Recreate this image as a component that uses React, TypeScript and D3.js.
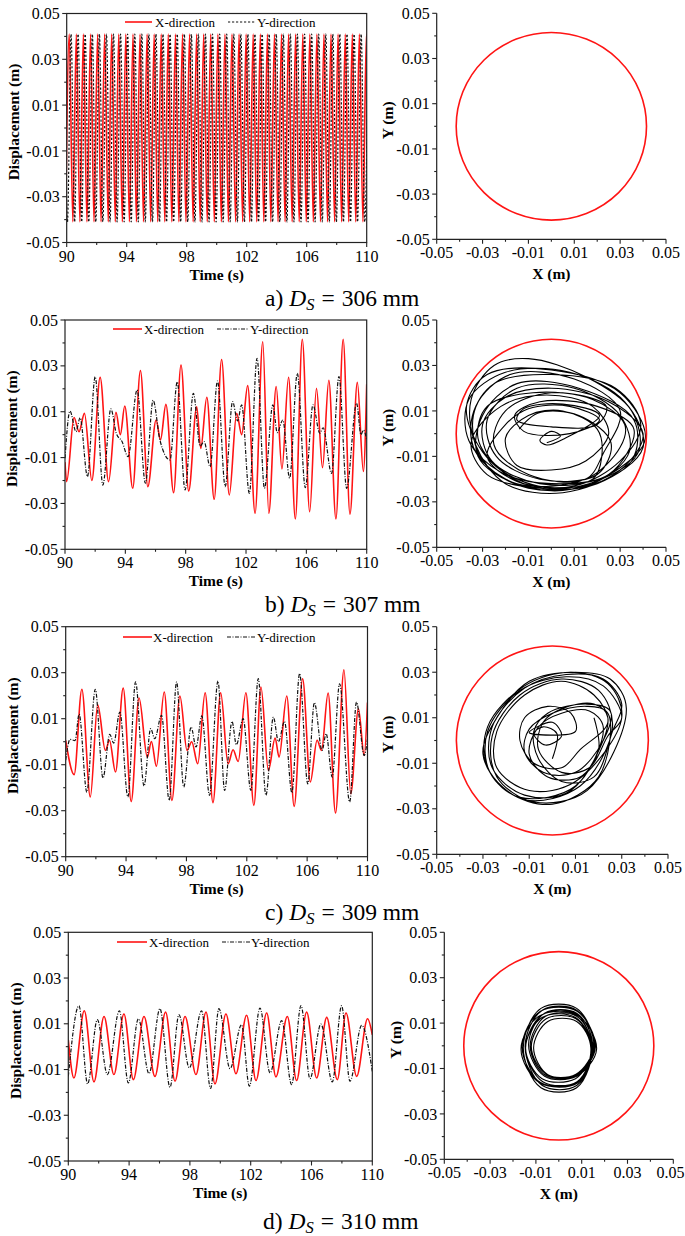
import React from 'react';
import * as d3 from 'd3';

type Pt = [number, number];

const FONT = "'Liberation Serif','Times New Roman',Times,serif";
const RED = '#ff1414';
const INK = '#111';
const PAGE_W = 685;

// ---------- axis ticks ----------
const timeTicksMajor = [90, 94, 98, 102, 106, 110];
const timeTickLabels = ['90', '94', '98', '102', '106', '110'];
const timeTicksMinor = [92, 96, 100, 104, 108];
const dispTicksMajor = [-0.05, -0.03, -0.01, 0.01, 0.03, 0.05];
const dispTickLabels = ['-0.05', '-0.03', '-0.01', '0.01', '0.03', '0.05'];
const dispTicksMinor = [-0.04, -0.02, 0, 0.02, 0.04];

// ---------- captions ----------
const panelLetters = ['a)', 'b)', 'c)', 'd)'];
const dsValues = ['306', '307', '309', '310'];
const seriesNames = ['X-direction', 'Y-direction'];

// clearance circle radius (m)
const clearanceR = 0.0415;

// ---------- a) D_S = 306 mm : extrema times (s), amplitude (m) ----------
const aAmp = 0.041;
const aXPeakTimes = [90.17, 90.64, 91.11, 91.59, 92.06, 92.53, 93.0, 93.47, 93.94, 94.42, 94.89, 95.36, 95.83, 96.3, 96.77, 97.25, 97.72, 98.19, 98.66, 99.13, 99.6, 100.08, 100.55, 101.02, 101.49, 101.96, 102.43, 102.91, 103.38, 103.85, 104.32, 104.79, 105.26, 105.74, 106.21, 106.68, 107.15, 107.62, 108.09, 108.57, 109.04, 109.51, 109.98];
const aXTroughTimes = [89.93, 90.41, 90.88, 91.35, 91.82, 92.29, 92.77, 93.24, 93.71, 94.18, 94.65, 95.12, 95.6, 96.07, 96.54, 97.01, 97.48, 97.95, 98.43, 98.9, 99.37, 99.84, 100.31, 100.78, 101.26, 101.73, 102.2, 102.67, 103.14, 103.61, 104.09, 104.56, 105.03, 105.5, 105.97, 106.44, 106.92, 107.39, 107.86, 108.33, 108.8, 109.27, 109.75, 110.22];
const aYPeakTimes = [89.82, 90.29, 90.76, 91.23, 91.71, 92.18, 92.65, 93.12, 93.59, 94.06, 94.54, 95.01, 95.48, 95.95, 96.42, 96.89, 97.37, 97.84, 98.31, 98.78, 99.25, 99.72, 100.2, 100.67, 101.14, 101.61, 102.08, 102.55, 103.03, 103.5, 103.97, 104.44, 104.91, 105.38, 105.86, 106.33, 106.8, 107.27, 107.74, 108.21, 108.69, 109.16, 109.63, 110.1];
const aYTroughTimes = [90.05, 90.53, 91.0, 91.47, 91.94, 92.41, 92.89, 93.36, 93.83, 94.3, 94.77, 95.24, 95.72, 96.19, 96.66, 97.13, 97.6, 98.07, 98.55, 99.02, 99.49, 99.96, 100.43, 100.9, 101.38, 101.85, 102.32, 102.79, 103.26, 103.73, 104.21, 104.68, 105.15, 105.62, 106.09, 106.56, 107.04, 107.51, 107.98, 108.45, 108.92, 109.39, 109.87];

// ---------- b) D_S = 307 mm ----------
const bXT = [90.0, 90.11, 90.6, 90.93, 91.29, 91.78, 92.33, 92.89, 93.38, 93.67, 93.96, 94.49, 95.0, 95.49, 96.04, 96.33, 96.69, 97.2, 97.69, 98.2, 98.73, 99.0, 99.4, 99.89, 100.38, 100.89, 101.38, 101.71, 102.11, 102.6, 103.11, 103.51, 104.0, 104.38, 104.82, 105.27, 105.73, 106.22, 106.67, 107.07, 107.49, 107.96, 108.44, 108.89, 109.38, 109.78, 110.0];
const bXV = [-0.012, -0.0205, 0.0075, 0.0013, 0.0093, -0.02, 0.025, -0.0205, 0.0097, 0.0, 0.0125, -0.0234, 0.028, -0.0227, 0.0064, -0.0023, 0.0132, -0.0253, 0.0304, -0.0246, 0.0122, -0.006, 0.0163, -0.0282, 0.0328, -0.0263, 0.0093, 0.0, 0.0214, -0.0343, 0.0405, -0.0343, 0.021, -0.015, 0.025, -0.0368, 0.0416, -0.0336, 0.0202, -0.0144, 0.0237, -0.0368, 0.0416, -0.0347, 0.0228, -0.016, 0.022];
const bYT = [90.0, 90.33, 90.73, 91.0, 91.49, 92.0, 92.51, 93.04, 93.4, 93.78, 94.18, 94.78, 95.33, 95.84, 96.29, 96.96, 97.44, 97.96, 98.51, 98.96, 99.22, 99.62, 100.11, 100.62, 101.11, 101.44, 101.71, 102.22, 102.73, 103.22, 103.78, 104.07, 104.44, 104.89, 105.4, 105.93, 106.44, 106.89, 107.11, 107.67, 108.16, 108.67, 109.33, 109.62, 109.78, 110.0];
const bYV = [-0.0103, 0.0103, 0.0013, 0.0074, -0.0183, 0.0253, -0.022, 0.0112, 0.0006, -0.003, -0.0096, 0.0195, -0.0212, 0.015, -0.0023, -0.011, 0.023, -0.0241, 0.018, -0.005, -0.003, -0.014, 0.0234, -0.0227, 0.0144, 0.006, 0.013, -0.0256, 0.0333, -0.0234, 0.013, 0.0009, 0.0064, -0.019, 0.0267, -0.0231, 0.013, 0.0006, 0.003, -0.0169, 0.0253, -0.0234, 0.0137, 0.0, 0.002, -0.002];

// ---------- c) D_S = 309 mm ----------
const cXT = [90.0, 90.56, 91.07, 91.63, 92.12, 92.63, 92.9, 93.3, 93.81, 94.34, 94.86, 95.41, 95.68, 96.01, 96.53, 97.04, 97.57, 98.04, 98.35, 98.75, 99.24, 99.76, 100.27, 100.76, 101.09, 101.43, 101.94, 102.47, 102.94, 103.43, 103.88, 104.14, 104.65, 105.14, 105.7, 106.21, 106.66, 106.95, 107.39, 107.88, 108.44, 108.89, 109.4, 109.78, 110.0];
const cXV = [0.0006, -0.0143, 0.0228, -0.024, 0.016, -0.0038, 0.0006, -0.0132, 0.0233, -0.026, 0.019, -0.0067, 0.0001, -0.0107, 0.0216, -0.0255, 0.0199, -0.0038, 0.0, -0.0096, 0.0213, -0.0265, 0.0213, -0.0096, -0.0035, -0.0086, 0.0213, -0.0277, 0.0238, -0.0125, 0.0016, -0.0067, 0.0199, -0.0281, 0.0274, -0.0175, 0.0006, -0.0038, 0.0212, -0.031, 0.0313, -0.0226, 0.0143, -0.006, 0.017];
const cYT = [90.0, 90.29, 90.62, 90.89, 91.4, 91.96, 92.47, 92.92, 93.18, 93.59, 94.12, 94.63, 95.19, 95.63, 95.9, 96.35, 96.86, 97.35, 97.82, 98.31, 98.64, 99.02, 99.53, 100.09, 100.53, 101.02, 101.31, 101.76, 102.27, 102.76, 103.27, 103.76, 104.1, 104.5, 104.99, 105.5, 106.04, 106.48, 106.99, 107.26, 107.66, 108.15, 108.82, 109.27, 109.78, 110.0];
const cYV = [-0.008, 0.001, 0.0005, 0.012, -0.0219, 0.0228, -0.0158, 0.0032, -0.0006, 0.0129, -0.024, 0.026, -0.0193, 0.0057, 0.0013, 0.0115, -0.0255, 0.026, -0.0197, 0.0064, -0.0023, 0.0112, -0.0233, 0.0264, -0.0212, 0.0088, -0.0013, 0.01, -0.0212, 0.0274, -0.0233, 0.0107, 0.0, 0.0088, -0.0222, 0.0296, -0.0183, 0.017, -0.0038, 0.0035, -0.0154, 0.0252, -0.0262, 0.0172, -0.006, 0.0013];

// ---------- d) D_S = 310 mm ----------
const dXT = [90.0, 90.37, 91.05, 91.69, 92.35, 93.0, 93.66, 94.28, 94.98, 95.7, 96.4, 97.02, 97.68, 98.4, 99.06, 99.65, 100.37, 101.03, 101.73, 102.35, 103.05, 103.66, 104.41, 105.02, 105.68, 106.34, 107.0, 107.7, 108.27, 108.97, 109.69, 110.0];
const dXV = [0.003, -0.0137, 0.0157, -0.0154, 0.0132, -0.0122, 0.0143, -0.0144, 0.0132, -0.013, 0.0151, -0.0151, 0.0132, -0.0122, 0.0151, -0.0163, 0.0143, -0.0118, 0.0137, -0.0148, 0.0147, -0.0132, 0.0132, -0.0148, 0.0151, -0.0137, 0.0128, -0.0144, 0.0147, -0.013, 0.0122, 0.0052];
const dYT = [90.0, 90.7, 91.27, 91.91, 92.57, 93.36, 93.95, 94.61, 95.31, 96.03, 96.69, 97.28, 97.96, 98.77, 99.36, 99.91, 100.64, 101.4, 101.91, 102.61, 103.27, 104.04, 104.69, 105.31, 105.9, 106.62, 107.37, 107.98, 108.53, 109.3, 110.0];
const dYV = [-0.013, 0.0179, -0.0163, 0.0118, -0.0122, 0.0157, -0.0159, 0.0122, -0.0118, 0.0166, -0.0178, 0.014, -0.0093, 0.0157, -0.0183, 0.0166, -0.0096, 0.0096, -0.0173, 0.0169, -0.0115, 0.0114, -0.0166, 0.018, -0.014, 0.0099, -0.0154, 0.0179, -0.0151, 0.0093, -0.0108];

// ---------- orbit traces (X, Y in m) ----------
const bOrbit: Pt[] = [
  [-0.002, -0.004], [0.004, -0.001], [0.0, 0.001], [-0.005, -0.003], [-0.002, -0.005], [0.006, -0.002],
  [0.021, 0.008], [0.005, 0.013], [-0.012, 0.011], [-0.015, 0.006], [0.0, 0.003], [0.02, 0.004],
  [0.024, 0.012], [0.0, 0.018], [-0.02, 0.01], [-0.025, -0.005], [-0.01, -0.018], [0.015, -0.02], [0.023, -0.008],
  [0.03, 0.01], [0.01, 0.024], [-0.018, 0.026], [-0.033, 0.012], [-0.034, -0.006], [-0.02, -0.02], [0.005, -0.025], [0.03, -0.015],
  [0.041, -0.002], [0.03, 0.018], [0.0, 0.028], [-0.028, 0.026], [-0.037, 0.012], [-0.03, -0.008], [-0.012, -0.022], [0.012, -0.024], [0.035, -0.012],
  [0.036, 0.006], [0.012, 0.02], [-0.015, 0.022], [-0.03, 0.008], [-0.032, -0.01], [-0.015, -0.022], [0.015, -0.02], [0.03, -0.006],
  [0.032, 0.004], [0.018, 0.015], [-0.008, 0.018], [-0.028, 0.012], [-0.032, -0.002], [-0.022, -0.016], [0.0, -0.024], [0.022, -0.02],
  [0.038, -0.008], [0.035, 0.01], [0.015, 0.025], [-0.01, 0.033], [-0.025, 0.03], [-0.035, 0.015], [-0.033, -0.005], [-0.02, -0.022], [0.005, -0.026], [0.03, -0.016],
  [0.04, 0.0], [0.025, 0.014], [0.0, 0.02], [-0.02, 0.016], [-0.03, 0.004], [-0.026, -0.012], [-0.005, -0.022], [0.018, -0.02],
  [0.022, -0.01], [0.02, 0.002], [0.005, 0.01], [-0.01, 0.008], [-0.02, -0.002], [-0.015, -0.014], [0.0, -0.016], [0.015, -0.012],
  [0.025, 0.0], [0.018, 0.012], [-0.002, 0.017], [-0.022, 0.012], [-0.035, -0.004], [-0.028, -0.018], [-0.005, -0.024], [0.02, -0.022],
  [0.04, -0.006], [0.032, 0.014], [0.008, 0.027], [-0.02, 0.027], [-0.036, 0.015], [-0.036, -0.003], [-0.022, -0.017], [0.0, -0.022], [0.025, -0.018],
  [0.036, 0.002], [0.02, 0.012], [-0.005, 0.014], [-0.016, 0.008], [-0.012, 0.001], [0.008, 0.0], [0.021, 0.006], [0.008, 0.012], [-0.01, 0.011],
  [-0.02, 0.004], [-0.028, -0.01], [-0.015, -0.021], [0.01, -0.023], [0.03, -0.012], [0.039, 0.004], [0.028, 0.02], [0.0, 0.026], [-0.025, 0.022], [-0.034, 0.008],
  [-0.03, -0.012], [-0.01, -0.024], [0.018, -0.022], [0.034, -0.008], [0.03, 0.008], [0.01, 0.02], [-0.015, 0.02], [-0.028, 0.006],
  [-0.024, -0.01], [-0.005, -0.02], [0.02, -0.018], [0.026, -0.004], [0.012, 0.008], [-0.006, 0.009], [-0.014, 0.002],
];

const cOrbit: Pt[] = [
  [0.0, -0.008], [0.002, 0.003], [-0.004, 0.006], [-0.008, 0.003], [-0.003, -0.002], [0.004, 0.002], [0.0, 0.008], [-0.01, 0.0035],
  [0.01, 0.004], [0.008, 0.012], [-0.002, 0.015], [-0.012, 0.01], [-0.014, 0.0], [-0.008, -0.01], [0.004, -0.012], [0.012, -0.004],
  [0.024, 0.008], [0.018, 0.02], [0.004, 0.026], [-0.012, 0.02], [-0.024, 0.004], [-0.024, -0.012], [-0.01, -0.022], [0.01, -0.018],
  [0.03, 0.01], [0.024, 0.025], [0.008, 0.03], [-0.012, 0.024], [-0.028, 0.006], [-0.028, -0.012], [-0.012, -0.026], [0.012, -0.02],
  [0.026, 0.006], [0.02, 0.022], [0.004, 0.027], [-0.014, 0.02], [-0.026, 0.002], [-0.024, -0.016], [-0.008, -0.027], [0.015, -0.022],
  [0.032, 0.014], [0.025, 0.027], [0.01, 0.03], [-0.01, 0.026], [-0.024, 0.01], [-0.03, -0.006], [-0.02, -0.022], [0.0, -0.028], [0.02, -0.016],
  [0.024, 0.012], [0.015, 0.015], [0.0, 0.012], [-0.01, 0.005], [-0.012, -0.005], [-0.004, -0.014], [0.01, -0.014], [0.022, 0.0],
  [0.025, 0.013], [0.015, 0.016], [-0.002, 0.012], [-0.008, 0.004], [-0.006, -0.008], [0.004, -0.018], [0.018, -0.016], [0.026, 0.004],
  [0.03, 0.016], [0.022, 0.027], [0.006, 0.029], [-0.012, 0.023], [-0.026, 0.006], [-0.026, -0.012], [-0.012, -0.024], [0.008, -0.022],
  [0.024, 0.01], [0.018, 0.016], [0.004, 0.014], [-0.004, 0.008], [-0.006, -0.004], [0.004, -0.014], [0.016, -0.012], [0.024, 0.002],
  [0.03, 0.01], [0.022, 0.024], [0.006, 0.028], [-0.014, 0.022], [-0.028, 0.004], [-0.027, -0.014], [-0.014, -0.025], [0.01, -0.02],
  [0.022, 0.006], [0.016, 0.013], [0.004, 0.012], [-0.006, 0.006], [-0.01, -0.006], [-0.002, -0.016], [0.012, -0.016], [0.02, -0.004], [0.018, 0.01],
];

const dOrbit: Pt[] = [
  [0.0155, -0.001], [0.008, 0.0138], [-0.007, 0.0138], [-0.0145, -0.001], [-0.007, -0.0158], [0.008, -0.0158],
  [0.0145, 0.0], [0.0078, 0.013], [-0.0058, 0.013], [-0.0125, 0.0], [-0.0058, -0.013], [0.0078, -0.013],
  [0.016, -0.0005], [0.008, 0.0152], [-0.008, 0.0152], [-0.016, -0.0005], [-0.008, -0.0162], [0.008, -0.0162],
  [0.014, -0.001], [0.0078, 0.0107], [-0.0048, 0.0107], [-0.011, -0.001], [-0.0048, -0.0127], [0.0078, -0.0127],
  [0.0155, -0.0008], [0.0078, 0.0165], [-0.0078, 0.0165], [-0.0155, -0.0008], [-0.0078, -0.0185], [0.0078, -0.0185],
  [0.0148, 0.0005], [0.0078, 0.0144], [-0.0062, 0.0144], [-0.0132, 0.0005], [-0.0062, -0.0134], [0.0078, -0.0134],
  [0.0165, -0.0015], [0.0083, 0.0133], [-0.0083, 0.0133], [-0.0165, -0.0015], [-0.0083, -0.0163], [0.0083, -0.0163],
  [0.014, -0.0003], [0.0075, 0.0119], [-0.0055, 0.0119], [-0.012, -0.0003], [-0.0055, -0.0125], [0.0075, -0.0125],
  [0.0153, 0.0], [0.0078, 0.0157], [-0.0072, 0.0157], [-0.0147, 0.0], [-0.0072, -0.0175], [0.0078, -0.0175],
  [0.0145, -0.001], [0.0073, 0.0125], [-0.0073, 0.0125], [-0.0145, -0.001], [-0.0073, -0.0145], [0.0073, -0.0145],
  [0.0158, -0.002],
];

// ---------- helpers ----------
const zip = (t: number[], v: number[]): Pt[] => t.map((d, i) => [d, v[i]] as Pt);
const fromExtrema = (peaks: number[], troughs: number[], amp: number): Pt[] =>
  [...peaks.map((t) => [t, amp] as Pt), ...troughs.map((t) => [t, -amp] as Pt)].sort((a, b) => a[0] - b[0]);

type Box = { x0: number; x1: number; yTop: number; yBot: number };
type Leg = { rx0: number; rx1: number; tx: number; yx0: number; yx1: number; ytx: number; y: number };

const rows: { left: Box; right: Box; cap: { x: number; y: number }; leg: Leg; dash: string; xs: Pt[]; ys: Pt[]; orbit: Pt[] | null }[] = [
  {
    left: { x0: 66.7, x1: 366.7, yTop: 13.5, yBot: 242.5 },
    right: { x0: 436.7, x1: 666, yTop: 13.3, yBot: 239.3 },
    cap: { x: 265, y: 306 },
    leg: { rx0: 125, rx1: 152, tx: 155, yx0: 228, yx1: 255, ytx: 257, y: 22 },
    dash: '2.2,1.8',
    xs: fromExtrema(aXPeakTimes, aXTroughTimes, aAmp),
    ys: fromExtrema(aYPeakTimes, aYTroughTimes, aAmp),
    orbit: null,
  },
  {
    left: { x0: 65, x1: 366.7, yTop: 320, yBot: 549.3 },
    right: { x0: 436.7, x1: 666, yTop: 320, yBot: 547.3 },
    cap: { x: 265, y: 612 },
    leg: { rx0: 113, rx1: 142, tx: 144, yx0: 217, yx1: 248, ytx: 250, y: 329 },
    dash: '4,1.5,1,1.5',
    xs: zip(bXT, bXV),
    ys: zip(bYT, bYV),
    orbit: bOrbit,
  },
  {
    left: { x0: 65.7, x1: 367.5, yTop: 626.7, yBot: 856.7 },
    right: { x0: 436.7, x1: 668, yTop: 626.7, yBot: 854.3 },
    cap: { x: 265, y: 920 },
    leg: { rx0: 123, rx1: 152, tx: 153, yx0: 227, yx1: 255, ytx: 257, y: 637 },
    dash: '4,1.5,1,1.5',
    xs: zip(cXT, cXV),
    ys: zip(cYT, cYV),
    orbit: cOrbit,
  },
  {
    left: { x0: 68.3, x1: 372.3, yTop: 932.3, yBot: 1161 },
    right: { x0: 444.3, x1: 673.3, yTop: 932.3, yBot: 1159.3 },
    cap: { x: 263, y: 1229 },
    leg: { rx0: 117, rx1: 147, tx: 149, yx0: 222, yx1: 250, ytx: 251, y: 942 },
    dash: '4,1.5,1,1.5',
    xs: zip(dXT, dXV),
    ys: zip(dYT, dYV),
    orbit: dOrbit,
  },
];

const AX = '#222';
const TICK_FS = 16;
const TITLE_FS = 15.5;

function YAxis({ y, x0 }: { y: d3.ScaleLinear<number, number>; x0: number }) {
  return (
    <g>
      {dispTicksMajor.map((v, i) => (
        <g key={'ym' + i}>
          <line x1={x0 - 4.5} x2={x0} y1={y(v)} y2={y(v)} stroke={AX} strokeWidth={1.1} />
          <text x={x0 - 7} y={y(v)} dy="0.35em" textAnchor="end" fontFamily={FONT} fontSize={TICK_FS} fill="#000">
            {dispTickLabels[i]}
          </text>
        </g>
      ))}
      {dispTicksMinor.map((v, i) => (
        <line key={'yn' + i} x1={x0 - 2.5} x2={x0} y1={y(v)} y2={y(v)} stroke={AX} strokeWidth={1.1} />
      ))}
    </g>
  );
}

function TimePanel({ L, xs, ys, dash, leg, id }: { L: Box; xs: Pt[]; ys: Pt[]; dash: string; leg: Leg; id: string }) {
  const x = d3.scaleLinear().domain([90, 110]).range([L.x0, L.x1]);
  const y = d3.scaleLinear().domain([-0.05, 0.05]).range([L.yBot, L.yTop]);
  const line = d3.line<Pt>().x((d) => x(d[0])).y((d) => y(d[1])).curve(d3.curveMonotoneX);
  const cy = (L.yTop + L.yBot) / 2;
  return (
    <g>
      <clipPath id={id}>
        <rect x={L.x0} y={L.yTop} width={L.x1 - L.x0} height={L.yBot - L.yTop} />
      </clipPath>
      <g clipPath={`url(#${id})`}>
        <path d={line(xs) || ''} fill="none" stroke={RED} strokeWidth={1.6} />
        <path d={line(ys) || ''} fill="none" stroke={INK} strokeWidth={1.2} strokeDasharray={dash} />
      </g>
      <rect x={L.x0} y={L.yTop} width={L.x1 - L.x0} height={L.yBot - L.yTop} fill="none" stroke={AX} strokeWidth={1.2} />
      <YAxis y={y} x0={L.x0} />
      {timeTicksMajor.map((v, i) => (
        <g key={'xm' + i}>
          <line x1={x(v)} x2={x(v)} y1={L.yBot} y2={L.yBot + 4.5} stroke={AX} strokeWidth={1.1} />
          <text x={x(v)} y={L.yBot + 19} textAnchor="middle" fontFamily={FONT} fontSize={TICK_FS} fill="#000">
            {timeTickLabels[i]}
          </text>
        </g>
      ))}
      {timeTicksMinor.map((v, i) => (
        <line key={'xn' + i} x1={x(v)} x2={x(v)} y1={L.yBot} y2={L.yBot + 2.5} stroke={AX} strokeWidth={1.1} />
      ))}
      <text x={(L.x0 + L.x1) / 2} y={L.yBot + 37} textAnchor="middle" fontFamily={FONT} fontWeight="bold" fontSize={TITLE_FS}>
        Time (s)
      </text>
      <text
        transform={`translate(${L.x0 - 53},${cy - 6}) rotate(-90)`}
        textAnchor="middle"
        dy="0.35em"
        fontFamily={FONT}
        fontWeight="bold"
        fontSize={TITLE_FS}
      >
        Displacement (m)
      </text>
      {/* legend */}
      <line x1={leg.rx0} x2={leg.rx1} y1={leg.y} y2={leg.y} stroke={RED} strokeWidth={1.6} />
      <text x={leg.tx} y={leg.y} dy="0.35em" fontFamily={FONT} fontSize={13}>
        {seriesNames[0]}
      </text>
      <line x1={leg.yx0} x2={leg.yx1} y1={leg.y} y2={leg.y} stroke={INK} strokeWidth={1.2} strokeDasharray={dash} />
      <text x={leg.ytx} y={leg.y} dy="0.35em" fontFamily={FONT} fontSize={13}>
        {seriesNames[1]}
      </text>
    </g>
  );
}

function OrbitPanel({ L, orbit }: { L: Box; orbit: Pt[] | null }) {
  const x = d3.scaleLinear().domain([-0.05, 0.05]).range([L.x0, L.x1]);
  const y = d3.scaleLinear().domain([-0.05, 0.05]).range([L.yBot, L.yTop]);
  const line = d3.line<Pt>().x((d) => x(d[0])).y((d) => y(d[1])).curve(d3.curveCatmullRom.alpha(0.5));
  const cy = (L.yTop + L.yBot) / 2;
  return (
    <g>
      {orbit && <path d={line(orbit) || ''} fill="none" stroke="#000" strokeWidth={1.1} />}
      <ellipse
        cx={x(0)}
        cy={y(0)}
        rx={x(clearanceR) - x(0)}
        ry={y(0) - y(clearanceR)}
        fill="none"
        stroke={RED}
        strokeWidth={1.6}
      />
      <line x1={L.x0} x2={L.x0} y1={L.yTop} y2={L.yBot} stroke={AX} strokeWidth={1.2} />
      <line x1={L.x0} x2={L.x1} y1={L.yBot} y2={L.yBot} stroke={AX} strokeWidth={1.2} />
      <YAxis y={y} x0={L.x0} />
      {dispTicksMajor.map((v, i) => {
        const px = x(v);
        const fits = px + 15 <= PAGE_W;
        return (
          <g key={'xm' + i}>
            <line x1={px} x2={px} y1={L.yBot} y2={L.yBot + 4.5} stroke={AX} strokeWidth={1.1} />
            <text
              x={fits ? px : PAGE_W - 0.5}
              y={L.yBot + 18.5}
              textAnchor={fits ? 'middle' : 'end'}
              fontFamily={FONT}
              fontSize={TICK_FS}
              fill="#000"
            >
              {dispTickLabels[i]}
            </text>
          </g>
        );
      })}
      {dispTicksMinor.map((v, i) => (
        <line key={'xn' + i} x1={x(v)} x2={x(v)} y1={L.yBot} y2={L.yBot + 2.5} stroke={AX} strokeWidth={1.1} />
      ))}
      <text x={(L.x0 + L.x1) / 2} y={L.yBot + 40} textAnchor="middle" fontFamily={FONT} fontWeight="bold" fontSize={TITLE_FS}>
        X (m)
      </text>
      <text
        transform={`translate(${L.x0 - 49},${cy - 6}) rotate(-90)`}
        textAnchor="middle"
        dy="0.35em"
        fontFamily={FONT}
        fontWeight="bold"
        fontSize={TITLE_FS}
      >
        Y (m)
      </text>
    </g>
  );
}

function Caption({ x, y, i }: { x: number; y: number; i: number }) {
  return (
    <text x={x} y={y} fontFamily={FONT} fontSize={23.5} fill="#000">
      <tspan>{panelLetters[i] + ' '}</tspan>
      <tspan fontStyle="italic">D</tspan>
      <tspan fontStyle="italic" fontSize={16.5} dy={4}>S</tspan>
      <tspan dy={-4} dx={7}>=</tspan>
      <tspan dx={7}>{dsValues[i] + ' mm'}</tspan>
    </text>
  );
}

export default function App() {
  return (
    <svg width={685} height={1236} style={{ position: 'absolute', left: 0, top: 0, background: '#fff' }}>
      <rect x={0} y={0} width={685} height={1236} fill="#fff" />
      {rows.map((r, i) => (
        <g key={i}>
          <TimePanel L={r.left} xs={r.xs} ys={r.ys} dash={r.dash} leg={r.leg} id={'clip' + i} />
          <OrbitPanel L={r.right} orbit={r.orbit} />
          <Caption x={r.cap.x} y={r.cap.y} i={i} />
        </g>
      ))}
    </svg>
  );
}
